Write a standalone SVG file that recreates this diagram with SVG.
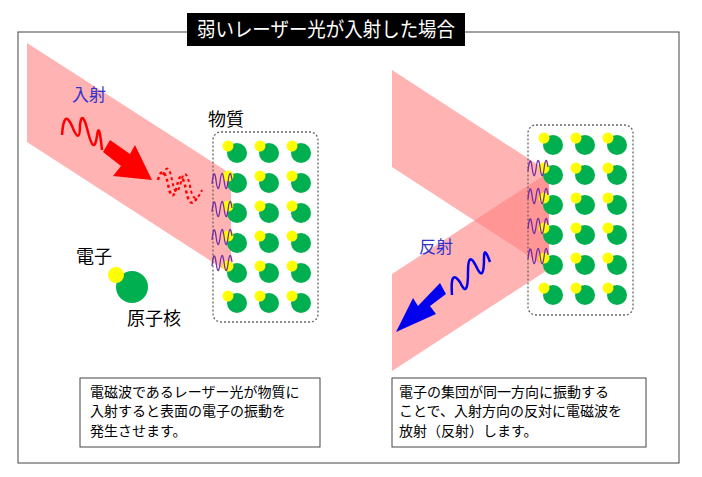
<svg xmlns="http://www.w3.org/2000/svg" width="702" height="477" viewBox="0 0 702 477">
<defs>
<style>
text{font-family:"Noto Sans CJK JP","Noto Sans CJK SC",sans-serif}
.beam{fill:#ff8080;fill-opacity:.6}
.g{fill:#00b050}
.y{fill:#ffff00}
.mat{fill:none;stroke:#666;stroke-width:1.3;stroke-dasharray:2 2}
.box{fill:#fff;stroke:#444;stroke-width:1}
.t{font-size:14px;fill:#000}
.w{fill:none;stroke-width:1.3}
</style>
<g id="atom"><circle class="g" cx="0" cy="0" r="10"/><circle class="y" cx="-9" cy="-7" r="5.5"/></g>
<g id="col"><use href="#atom" y="0"/><use href="#atom" y="30"/><use href="#atom" y="60"/><use href="#atom" y="90"/><use href="#atom" y="120"/><use href="#atom" y="150"/></g>
<g id="grid"><use href="#col" x="0"/><use href="#col" x="32"/><use href="#col" x="64"/></g>
<path id="sw" d="M0,4 q2,-18 4,-4 q2,16 4,2 q2,-16 4,-2 q2,16 4,2 q2,-16 4,-2"/>
</defs>
<rect x="18" y="32" width="661" height="431" fill="none" stroke="#444" stroke-width="1"/>
<g id="title"><rect x="187" y="13" width="278" height="33" fill="#000"/>
<text x="197" y="37" font-size="20" fill="#fff" textLength="258" lengthAdjust="spacingAndGlyphs">弱いレーザー光が入射した場合</text></g>

<g id="left">
<polygon class="beam" points="27,43 231,174 231,274 27,142"/>
<g id="matL"><rect class="mat" x="213" y="132" width="105" height="190" rx="8"/><use href="#grid" x="237" y="153"/></g>
<g class="w"><use href="#sw" x="212" y="180" stroke="#7030a0"/><use href="#sw" x="212" y="208" stroke="#7030a0"/><use href="#sw" x="212" y="236" stroke="#7030a0"/><use href="#sw" x="212" y="262" stroke="#7030a0"/></g>
<text x="72" y="101" font-size="17" fill="#3333cc">入射</text>
<path d="M62,135 Q64,108 72,126 Q80,146 80,125 Q82,108 88,132 Q94,156 97,136 Q99,120 102,150" fill="none" stroke="#ff0000" stroke-width="2.5"/>
<polygon points="103,152 110,140 130,154 135,145 152,180 113,176 121,166" fill="#ff0000"/>
<path d="M158,180 Q163,162 168,184 Q172,206 177,186 Q181,166 186,190 Q190,212 198,196" fill="none" stroke="#ff0000" stroke-width="2.5" stroke-dasharray="3 3"/>
<path d="M163,175 Q168,160 172,180 Q176,202 181,182 Q185,164 190,186 Q194,208 202,190" fill="none" stroke="#ff0000" stroke-width="2" stroke-dasharray="3 3"/>
<g id="legend"><circle class="g" cx="132" cy="287" r="16"/><circle class="y" cx="116" cy="275" r="8"/>
<text x="76" y="263" font-size="18">電子</text><text x="127" y="325" font-size="18">原子核</text></g>
<text x="208" y="126" font-size="18">物質</text>
</g>

<g id="right">
<polygon class="beam" points="392,70 549,172 549,269 392,167"/>
<polygon class="beam" points="549,172 549,269 392,371 392,274"/>
<g id="matR"><rect class="mat" x="528" y="125" width="105" height="190" rx="8"/><use href="#grid" x="553" y="145"/></g>
<g class="w"><use href="#sw" x="528" y="167" stroke="#7030a0"/><use href="#sw" x="528" y="195" stroke="#7030a0"/><use href="#sw" x="528" y="225" stroke="#7030a0"/><use href="#sw" x="528" y="255" stroke="#7030a0"/></g>
<text x="419" y="253" font-size="17" fill="#3333cc">反射</text>
<path d="M452,295 Q450,268 460,282 Q468,300 468,272 Q468,250 476,266 Q484,284 484,258 Q484,245 490,262" fill="none" stroke="#0000ee" stroke-width="2.5"/>
<polygon points="440,283 446,294 430,306 436,314 396,332 413,298 418,306" fill="#0000ee"/>
</g>

<g id="noteL"><rect class="box" x="80" y="378" width="240" height="69"/>
<text class="t" x="90" y="397">電磁波であるレーザー光が物質に</text>
<text class="t" x="90" y="416">入射すると表面の電子の振動を</text>
<text class="t" x="90" y="436">発生させます。</text></g>
<g id="noteR"><rect class="box" x="392" y="378" width="254" height="69"/>
<text class="t" x="399" y="397">電子の集団が同一方向に振動する</text>
<text class="t" x="399" y="416">ことで、入射方向の反対に電磁波を</text>
<text class="t" x="399" y="436">放射（反射）します。</text></g>
</svg>
